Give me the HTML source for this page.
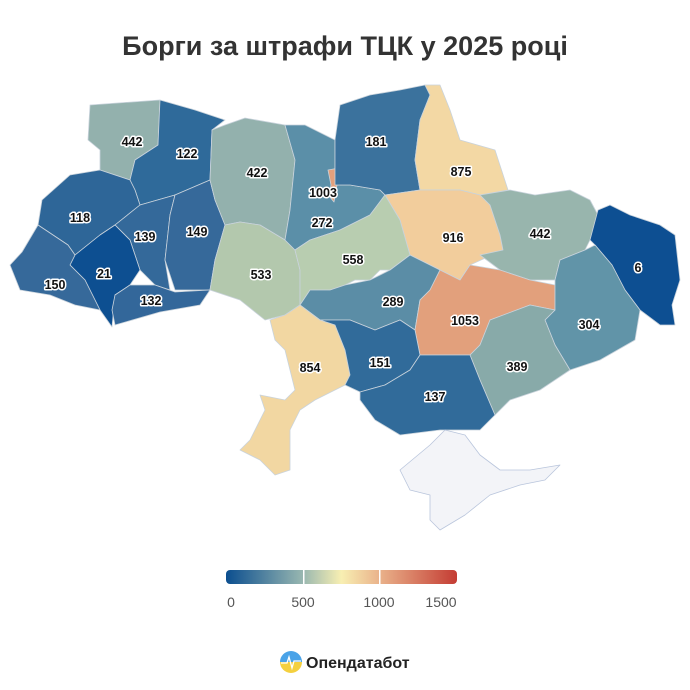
<!DOCTYPE html>
<html><head><meta charset="utf-8"><style>
body{margin:0;background:#fff;}
svg{display:block;}
.l{font-family:"Liberation Sans",sans-serif;font-weight:bold;font-size:12.5px;fill:#111;stroke:#fff;stroke-width:3px;paint-order:stroke;stroke-linejoin:round;text-anchor:middle;}
.r{stroke:#c9d3dc;stroke-width:0.8;stroke-linejoin:round;}
</style></head><body>
<svg width="690" height="690" viewBox="0 0 690 690" xmlns="http://www.w3.org/2000/svg">
<defs><linearGradient id="g" x1="0" x2="1">
<stop offset="0" stop-color="#0b4e8f"/><stop offset="0.33" stop-color="#97b6b0"/><stop offset="0.5" stop-color="#f8efb2"/><stop offset="0.66" stop-color="#eab48c"/><stop offset="1" stop-color="#c43c33"/></linearGradient>
<linearGradient id="lg" x1="0" y1="0" x2="0" y2="1"><stop offset="0.5" stop-color="#4aa3e8"/><stop offset="0.5" stop-color="#f4d03f"/></linearGradient></defs>
<text x="345" y="55" text-anchor="middle" font-family="Liberation Sans,sans-serif" font-weight="bold" font-size="27" fill="#333">Борги за штрафи ТЦК у 2025 році</text>
<g class="r">
<polygon fill="#93b1ad" points="90,105 160,100 158,145 135,160 130,180 100,170 100,150 88,140"/>
<polygon fill="#2f6a9a" points="160,100 195,110 225,120 212,130 210,180 175,195 140,205 135,190 130,180 135,160 158,145"/>
<polygon fill="#2e6698" points="100,170 130,180 135,190 140,205 115,225 100,235 75,255 68,245 38,225 42,200 70,175"/>
<polygon fill="#34699a" points="115,225 140,205 175,195 170,215 165,260 170,290 155,285 140,270 130,240"/>
<polygon fill="#36699a" points="175,195 210,180 215,200 225,225 215,260 210,290 175,290 165,260 170,215"/>
<polygon fill="#0d4f91" points="100,235 115,225 130,240 140,270 130,285 115,295 112,327 100,310 85,280 70,265 75,255"/>
<polygon fill="#36699a" points="38,225 68,245 75,255 70,265 85,280 100,310 75,305 50,295 20,290 10,265 22,252"/>
<polygon fill="#33679a" points="130,285 155,285 175,292 210,290 200,305 160,312 115,325 112,310 115,295"/>
<polygon fill="#93b1ad" points="225,125 245,118 285,125 295,160 290,210 285,240 260,225 240,222 225,225 215,200 210,180 212,130"/>
<polygon fill="#b3c8ad" points="225,225 240,222 260,225 285,240 295,250 300,270 300,305 285,315 265,320 240,300 210,290 215,260"/>
<polygon fill="#5b8fa8" points="285,125 305,125 335,140 335,185 350,185 380,190 385,195 370,215 340,230 310,240 295,250 285,240 290,210 295,160"/>
<polygon fill="#e3a07c" points="328,170 339,168 337,185 334,202 329,196 331,185"/>
<polygon fill="#3b729d" points="335,140 340,105 370,95 400,90 425,85 430,95 420,120 415,160 420,190 385,195 380,190 350,185 335,185"/>
<polygon fill="#f3d8a4" points="425,85 440,85 450,110 460,140 495,150 508,190 480,195 460,190 430,190 420,190 415,160 420,120 430,95"/>
<polygon fill="#f2cd9c" points="385,195 420,190 460,190 480,195 490,205 500,235 503,250 470,265 460,280 440,270 410,255 400,220"/>
<polygon fill="#98b5ad" points="480,195 510,190 535,195 570,190 590,200 598,215 590,240 585,250 560,260 555,280 530,280 500,270 480,255 503,250 500,235 490,205"/>
<polygon fill="#0d4f92" points="598,210 610,205 630,215 660,225 675,235 680,280 672,305 675,325 660,325 640,310 625,290 612,265 595,245 590,240"/>
<polygon fill="#b8cdb0" points="295,250 310,240 340,230 370,215 385,195 400,220 410,255 390,270 380,270 370,280 355,280 345,285 330,290 310,290 300,305 300,270"/>
<polygon fill="#5b8da6" points="300,305 310,290 330,290 345,285 370,280 390,270 410,255 440,270 430,290 420,300 415,330 400,320 375,330 350,320 320,320"/>
<polygon fill="#e2a07c" points="440,270 460,280 470,265 500,270 530,280 555,285 555,310 530,305 490,320 480,345 470,355 450,355 420,355 415,330 420,300 430,290"/>
<polygon fill="#6194a8" points="555,280 560,260 585,250 595,245 612,265 625,290 640,310 635,340 600,360 570,370 555,345 545,320 555,310"/>
<polygon fill="#88aaa9" points="480,345 490,320 530,305 555,310 545,320 555,345 570,370 540,390 510,400 495,415 480,380 470,355"/>
<polygon fill="#f2d7a2" points="270,320 285,315 300,305 320,320 335,325 345,350 350,375 345,385 325,395 315,400 300,410 290,430 290,470 275,475 260,460 240,450 250,440 265,410 260,395 285,400 295,390 285,350 275,340"/>
<polygon fill="#316b9a" points="320,320 350,320 375,330 400,320 415,330 420,355 410,370 385,385 360,392 345,385 350,375 345,350 335,325"/>
<polygon fill="#316b9a" points="410,370 420,355 450,355 470,355 480,380 495,415 480,430 440,430 400,435 375,420 360,400 360,392 385,385"/>
<polygon fill="#f3f4f8" stroke="#b9c5dc" points="400,470 430,445 445,430 465,435 480,455 500,470 530,470 560,465 545,480 520,485 490,495 465,515 440,530 430,520 430,495 410,490"/>
</g>
<g class="l">
<text x="132" y="146">442</text><text x="187" y="158">122</text><text x="80" y="222">118</text>
<text x="145" y="241">139</text><text x="197" y="236">149</text><text x="104" y="278">21</text>
<text x="55" y="289">150</text><text x="151" y="305">132</text><text x="257" y="177">422</text>
<text x="323" y="197">1003</text><text x="322" y="227">272</text><text x="376" y="146">181</text>
<text x="461" y="176">875</text><text x="453" y="242">916</text><text x="540" y="238">442</text>
<text x="638" y="272">6</text><text x="261" y="279">533</text><text x="353" y="264">558</text>
<text x="393" y="306">289</text><text x="465" y="325">1053</text><text x="589" y="329">304</text>
<text x="310" y="372">854</text><text x="380" y="367">151</text><text x="435" y="401">137</text>
<text x="517" y="371">389</text>
</g>
<rect x="226" y="570" width="231" height="14" rx="4" fill="url(#g)"/>
<rect x="303" y="570" width="1.5" height="14" fill="#fff"/><rect x="379" y="570" width="1.5" height="14" fill="#fff"/>
<g font-family="Liberation Sans,sans-serif" font-size="14" fill="#555" text-anchor="middle">
<text x="231" y="607">0</text><text x="303" y="607">500</text><text x="379" y="607">1000</text><text x="441" y="607">1500</text></g>
<circle cx="291" cy="662" r="11" fill="url(#lg)"/>
<polyline points="281,663 287,663 289,657 292,668 294,661 301,661" fill="none" stroke="#fff" stroke-width="1.3"/>
<text x="306" y="668" font-family="Liberation Sans,sans-serif" font-weight="bold" font-size="16" fill="#222">Опендатабот</text>
</svg>
</body></html>
